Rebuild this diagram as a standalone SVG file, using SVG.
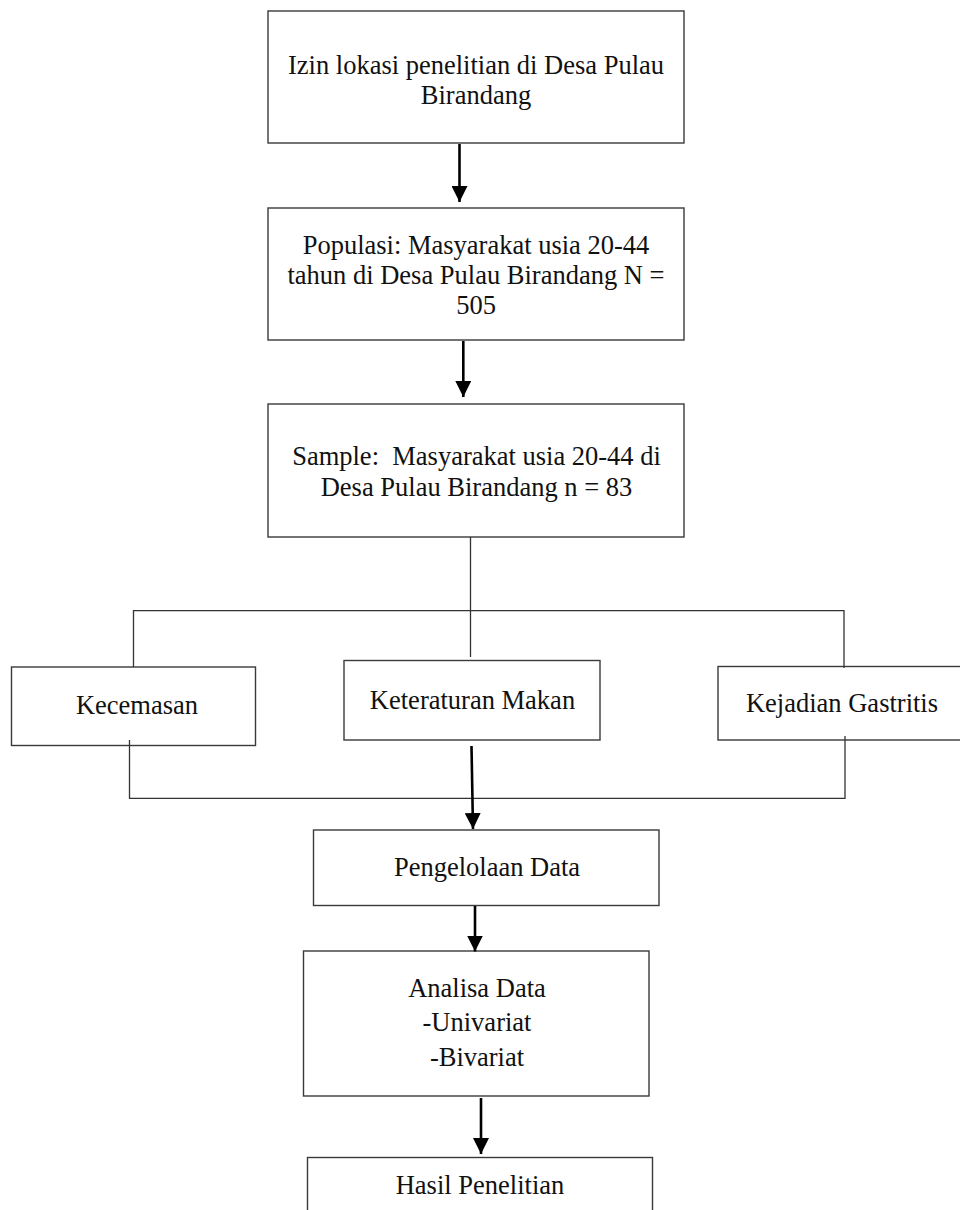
<svg xmlns="http://www.w3.org/2000/svg" width="960" height="1210" viewBox="0 0 960 1210">
  <style>
    .box { fill: #ffffff; stroke: #3a3a3a; stroke-width: 1.4; }
    .lbl { font-family: "Liberation Serif", "Times New Roman", serif; font-size: 26.5px; fill: #111111; text-anchor: middle; }
    .wire { fill: none; stroke: #333333; stroke-width: 1.3; }
    .arrow { fill: none; stroke: #000000; stroke-width: 2.6; marker-end: url(#head); }
  </style>
  <defs>
    <marker id="head" markerUnits="userSpaceOnUse" markerWidth="16" markerHeight="16" viewBox="0 0 16 16" refX="16" refY="8" orient="auto">
      <path d="M0,0 L16,8 L0,16 Z" fill="#000000"/>
    </marker>
  </defs>
  <rect width="960" height="1210" fill="#ffffff"/>

  <g id="izin">
    <rect class="box" x="268" y="11" width="416" height="132"/>
    <text class="lbl" x="476" y="74">Izin lokasi penelitian di Desa Pulau</text>
    <text class="lbl" x="476" y="103.5">Birandang</text>
  </g>

  <g id="populasi">
    <rect class="box" x="268" y="208" width="416" height="132"/>
    <text class="lbl" x="476" y="253.5">Populasi: Masyarakat usia 20-44</text>
    <text class="lbl" x="476" y="284">tahun di Desa Pulau Birandang N =</text>
    <text class="lbl" x="476" y="314">505</text>
  </g>

  <g id="sample">
    <rect class="box" x="268" y="404" width="416" height="133"/>
    <text class="lbl" x="476.5" y="465" xml:space="preserve">Sample:  Masyarakat usia 20-44 di</text>
    <text class="lbl" x="476.5" y="496">Desa Pulau Birandang n = 83</text>
  </g>

  <g id="kecemasan">
    <rect class="box" x="11.5" y="667" width="244" height="78.5"/>
    <text class="lbl" x="137" y="714">Kecemasan</text>
  </g>

  <g id="keteraturan">
    <rect class="box" x="344" y="660.5" width="256" height="79.5"/>
    <text class="lbl" x="472.5" y="708.5">Keteraturan Makan</text>
  </g>

  <g id="gastritis">
    <rect class="box" x="718" y="666.5" width="250" height="73.5"/>
    <text class="lbl" x="842" y="712">Kejadian Gastritis</text>
  </g>

  <g id="pengelolaan">
    <rect class="box" x="313.5" y="830" width="345.5" height="75.5"/>
    <text class="lbl" x="487" y="876">Pengelolaan Data</text>
  </g>

  <g id="analisa">
    <rect class="box" x="303.5" y="951" width="345.5" height="145"/>
    <text class="lbl" x="477" y="997">Analisa Data</text>
    <text class="lbl" x="477" y="1031">-Univariat</text>
    <text class="lbl" x="477" y="1066">-Bivariat</text>
  </g>

  <g id="hasil">
    <rect class="box" x="307.5" y="1157.5" width="345" height="60"/>
    <text class="lbl" x="480" y="1193.5">Hasil Penelitian</text>
  </g>

  <g id="connectors">
    <line class="arrow" x1="459.5" y1="144" x2="459.5" y2="202"/>
    <line class="arrow" x1="463.3" y1="341" x2="463.3" y2="397"/>
    <path class="wire" d="M470.5,537 V657"/>
    <path class="wire" d="M133.5,667 V610.7 H844 V668"/>
    <path class="wire" d="M129.5,740 V798.3 H845 V736"/>
    <line class="arrow" x1="471.5" y1="746" x2="473" y2="829"/>
    <line class="arrow" x1="475" y1="906" x2="475" y2="951.5"/>
    <line class="arrow" x1="481" y1="1098" x2="481" y2="1154"/>
  </g>
</svg>
